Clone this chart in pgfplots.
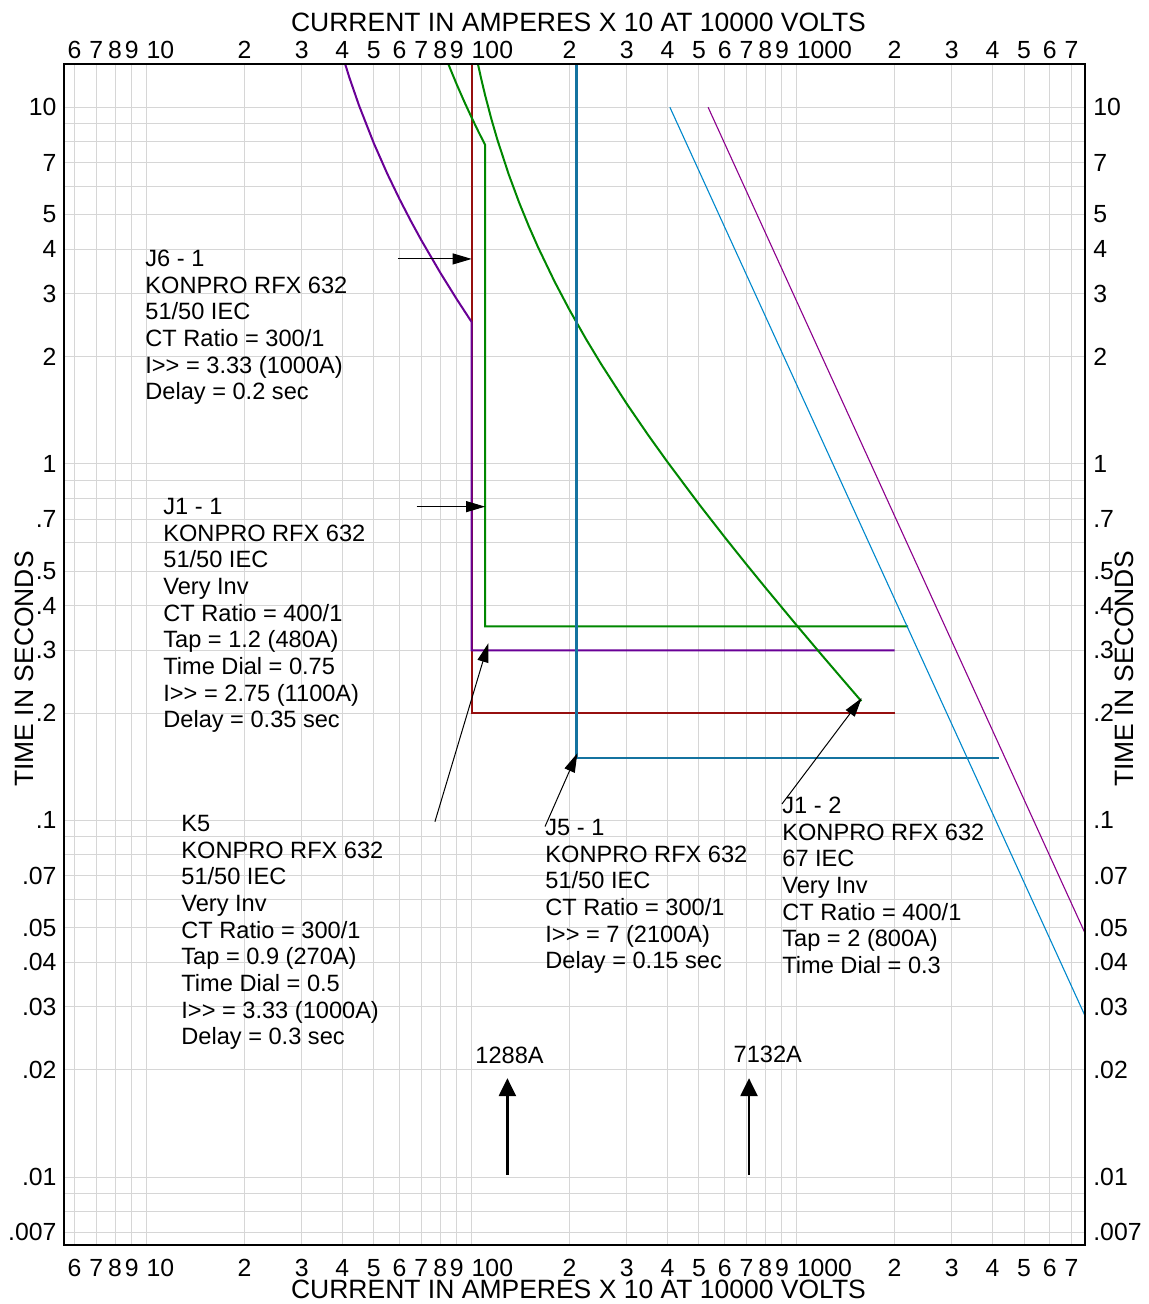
\documentclass[border=0pt]{standalone}
\usepackage{fontspec}
\setmainfont{Liberation Sans}
\usepackage{pgfplots}
\pgfplotsset{compat=1.18}
\usetikzlibrary{arrows.meta}
\definecolor{cRed}{RGB}{150,15,15}
\definecolor{cPur}{RGB}{105,0,150}
\definecolor{cGrn}{RGB}{0,135,0}
\definecolor{cBlu}{RGB}{20,115,160}
\definecolor{cLBlu}{RGB}{0,136,204}
\definecolor{cLPur}{RGB}{140,0,140}
\newcommand{\lbl}[1]{\begin{tabular}[t]{@{}l@{}}#1\end{tabular}}
\newcommand{\lblfont}{\fontsize{11.8}{13.33}\selectfont}
\newcommand{\axfont}{\fontsize{13.25}{15}\selectfont}
\newcommand{\tlfont}{\fontsize{12.4}{14}\selectfont}
\begin{document}
\begin{tikzpicture}
\path[use as bounding box] (0,0) rectangle (574pt,652pt);
\begin{axis}[
  xmode=log, ymode=log,
  scale only axis, width=510.5pt, height=590.5pt,
  at={(31.95pt,29.5pt)}, anchor=south west,
  xmin=5.567, xmax=7700, ymin=0.006447, ymax=13.22,
  xtick={6,7,8,9,10,20,30,40,50,60,70,80,90,100,200,300,400,500,600,700,800,900,1000,2000,3000,4000,5000,6000,7000},
  xticklabels={6,7,8,9,\makebox[0pt][l]{10},2,3,4,5,6,7,8,9,\makebox[0pt][l]{100},2,3,4,5,6,7,8,9,\makebox[0pt][l]{1000},2,3,4,5,6,7},
  ytick={0.007,0.008,0.009,0.01,0.02,0.03,0.04,0.05,0.06,0.07,0.08,0.09,0.1,0.2,0.3,0.4,0.5,0.6,0.7,0.8,0.9,1,2,3,4,5,6,7,8,9,10},
  yticklabels={.007,{},{},.01,.02,.03,.04,.05,{},.07,{},{},.1,.2,.3,.4,.5,{},.7,{},{},1,2,3,4,5,{},7,{},{},10},
  major tick length=0pt,
  tick label style={font=\tlfont, inner sep=0pt},
  axis line style={line width=0.7pt, black},
  grid=major, grid style={black!16, line width=0.5pt},
  xticklabel pos=lower, yticklabel pos=left,
  xticklabel style={anchor=base, yshift=-15.5pt},
  yticklabel style={anchor=east, xshift=-3.5pt},
]
% J6-1
\addplot[cRed, line width=1pt] coordinates {(100,20)(100,0.2)(2000,0.2)};
% K5
\addplot[cPur, line width=1pt] coordinates {(40,14.02)(42,12.15)(45,10.125)(50,7.924)(55,6.509)(60,5.523)(65,4.796)(70,4.238)(80,3.439)(90,2.893)(100,2.497)(100,0.3)(2000,0.3)};
% J1-1
\addplot[cGrn, line width=1pt] coordinates {(84,13.5)(86,12.79)(90,11.571)(95,10.34)(100,9.346)(105,8.526)(110,7.839)(110,0.35)(2200,0.35)};
% J1-2
\addplot[cGrn, line width=1pt] coordinates {(104,13.5)(107,12.0)(110,10.8)(115,9.257)(120,8.1)(130,6.48)(140,5.4)(150,4.629)(160,4.05)(180,3.24)(200,2.7)(225,2.2345)(250,1.906)(300,1.4727)(350,1.2)(400,1.0125)(500,0.7714)(600,0.6231)(700,0.5226)(800,0.45)(1000,0.3522)(1200,0.2893)(1400,0.2455)(1580,0.216)};
% J5-1
\addplot[cBlu, line width=1.1pt] coordinates {(210,20)(210,0.15)(4200,0.15)};
% damage lines
\addplot[cLBlu, line width=0.55pt] coordinates {(407.1,10)(7700,0.02836)};
\addplot[cLPur, line width=0.55pt] coordinates {(533.6,10)(7700,0.04836)};
% arrows
\draw[-{Triangle[length=9.5pt,width=5.5pt]}, line width=0.5pt] (axis cs:59.3,3.755) -- (axis cs:100,3.755);
\draw[-{Triangle[length=9.5pt,width=5.5pt]}, line width=0.5pt] (axis cs:67.7,0.7585) -- (axis cs:110,0.7585);
\draw[-{Triangle[length=9.5pt,width=5.5pt]}, line width=0.5pt] (axis cs:77.1,0.0992) -- (axis cs:112.5,0.314);
\draw[-{Triangle[length=9.5pt,width=5.5pt]}, line width=0.5pt] (axis cs:168.1,0.0961) -- (axis cs:211.3,0.1543);
\draw[-{Triangle[length=9.5pt,width=5.5pt]}, line width=0.5pt] (axis cs:900.6,0.1112) -- (axis cs:1583,0.2202);
\draw[-{Triangle[length=9pt,width=8.5pt]}, line width=1.4pt] (axis cs:128.8,0.01014) -- (axis cs:128.8,0.01893);
\draw[-{Triangle[length=9pt,width=8.5pt]}, line width=1.4pt] (axis cs:713.2,0.01014) -- (axis cs:713.2,0.01893);
% labels
\node[anchor=base west, inner sep=0pt, font=\lblfont] at (axis cs:9.887,3.573) {\lbl{J6 - 1\\KONPRO RFX 632\\51/50 IEC\\CT Ratio = 300/1\\I>{}> = 3.33 (1000A)\\Delay = 0.2 sec}};
\node[anchor=base west, inner sep=0pt, font=\lblfont] at (axis cs:11.23,0.7204) {\lbl{J1 - 1\\KONPRO RFX 632\\51/50 IEC\\Very Inv\\CT Ratio = 400/1\\Tap = 1.2 (480A)\\Time Dial = 0.75\\I>{}> = 2.75 (1100A)\\Delay = 0.35 sec}};
\node[anchor=base west, inner sep=0pt, font=\lblfont] at (axis cs:12.76,0.09302) {\lbl{K5\\KONPRO RFX 632\\51/50 IEC\\Very Inv\\CT Ratio = 300/1\\Tap = 0.9 (270A)\\Time Dial = 0.5\\I>{}> = 3.33 (1000A)\\Delay = 0.3 sec}};
\node[anchor=base west, inner sep=0pt, font=\lblfont] at (axis cs:168.1,0.0908) {\lbl{J5 - 1\\KONPRO RFX 632\\51/50 IEC\\CT Ratio = 300/1\\I>{}> = 7 (2100A)\\Delay = 0.15 sec}};
\node[anchor=base west, inner sep=0pt, font=\lblfont] at (axis cs:900.6,0.1045) {\lbl{J1 - 2\\KONPRO RFX 632\\67 IEC\\Very Inv\\CT Ratio = 400/1\\Tap = 2 (800A)\\Time Dial = 0.3}};
\node[anchor=base west, inner sep=0pt, font=\lblfont] at (axis cs:102.4,0.02076) {1288A};
\node[anchor=base west, inner sep=0pt, font=\lblfont] at (axis cs:637.8,0.021) {7132A};
\end{axis}
\begin{axis}[
  xmode=log, ymode=log,
  scale only axis, width=510.5pt, height=590.5pt,
  at={(31.95pt,29.5pt)}, anchor=south west,
  xmin=5.567, xmax=7700, ymin=0.006447, ymax=13.22,
  xtick={6,7,8,9,10,20,30,40,50,60,70,80,90,100,200,300,400,500,600,700,800,900,1000,2000,3000,4000,5000,6000,7000},
  xticklabels={6,7,8,9,\makebox[0pt][l]{10},2,3,4,5,6,7,8,9,\makebox[0pt][l]{100},2,3,4,5,6,7,8,9,\makebox[0pt][l]{1000},2,3,4,5,6,7},
  ytick={0.007,0.008,0.009,0.01,0.02,0.03,0.04,0.05,0.06,0.07,0.08,0.09,0.1,0.2,0.3,0.4,0.5,0.6,0.7,0.8,0.9,1,2,3,4,5,6,7,8,9,10},
  yticklabels={.007,{},{},.01,.02,.03,.04,.05,{},.07,{},{},.1,.2,.3,.4,.5,{},.7,{},{},1,2,3,4,5,{},7,{},{},10},
  major tick length=0pt,
  tick label style={font=\tlfont, inner sep=0pt},
  axis line style={line width=0.7pt, black},
  xticklabel pos=upper, yticklabel pos=right,
  xticklabel style={anchor=base, yshift=2.9pt},
  yticklabel style={anchor=west, xshift=4pt},
]
\addplot[draw=none] coordinates {(10,1)};
\end{axis}
\node[anchor=base, inner sep=0pt, font=\axfont] at (289.25pt,636.2pt) {CURRENT IN AMPERES X 10 AT 10000 VOLTS};
\node[anchor=base, inner sep=0pt, font=\axfont] at (289.25pt,2.5pt) {CURRENT IN AMPERES X 10 AT 10000 VOLTS};
\node[rotate=90, anchor=base, inner sep=0pt, font=\axfont] at (16.7pt,317.5pt) {TIME IN SECONDS};
\node[rotate=90, anchor=base, inner sep=0pt, font=\axfont] at (566.7pt,317.5pt) {TIME IN SECONDS};
\end{tikzpicture}
\end{document}
